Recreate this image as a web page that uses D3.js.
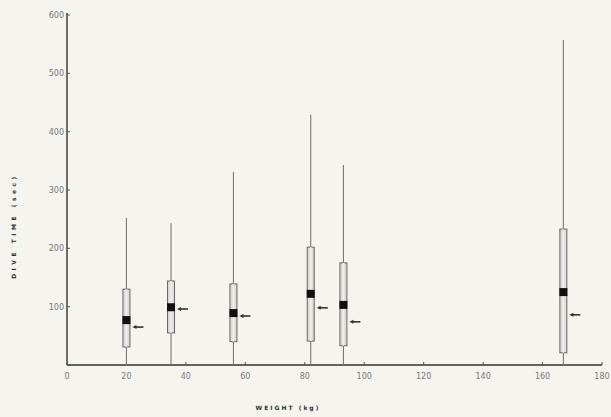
<!DOCTYPE html>
<html lang="en">
<head>
    <meta charset="UTF-8">
    <title>Dive time vs weight</title>
    <script src="https://d3js.org/d3.v7.min.js"></script>
    <style>
        body { margin: 0; background: #f5f4ef; }
        .tick-label {
            font-size: 8px;
            font-family: "DejaVu Sans", sans-serif;
            fill: #777;
        }
        .axis-title {
            font-size: 6px;
            font-weight: bold;
            font-family: "DejaVu Sans", sans-serif;
            fill: #333;
            letter-spacing: 2px;
            text-anchor: middle;
        }
    </style>
</head>
<body>
<script>
    // weight (kg) of each group and its dive time summary (sec)
    let weights = [20, 35, 56, 82, 93, 167];
    let whiskerLow = [0, 0, 0, 0, 0, 0];
    let q1 = [31, 55, 40, 41, 33, 21];
    let medians = [77, 99, 89, 122, 103, 125];
    let q3 = [130, 144, 139, 202, 175, 233];
    let whiskerHigh = [252, 243, 331, 429, 343, 557];
    let means = [65, 96, 84, 98, 74, 86];

    let xTicks = [0, 20, 40, 60, 80, 100, 120, 140, 160, 180];
    let yTicks = [0, 100, 200, 300, 400, 500, 600];

    let width = 611;
    let height = 417;

    let svg = d3.select("body").append("svg")
        .attr("width", width)
        .attr("height", height);

    // background
    svg.append("rect")
        .attr("fill", "#f5f4ef")
        .attr("width", "100%")
        .attr("height", "100%");

    let x = d3.scaleLinear().domain([0, 180]).range([67, 602]);
    let y = d3.scaleLinear().domain([0, 600]).range([365, 15]);

    // axes
    svg.append("line")
        .attr("x1", x(0)).attr("y1", y(0))
        .attr("x2", x(180)).attr("y2", y(0))
        .attr("stroke", "#333").attr("stroke-width", 1.6);
    svg.append("line")
        .attr("x1", x(0)).attr("y1", y(0))
        .attr("x2", x(0)).attr("y2", y(600) - 2)
        .attr("stroke", "#333").attr("stroke-width", 1.4);

    xTicks.forEach(t => {
        svg.append("line")
            .attr("x1", x(t)).attr("x2", x(t))
            .attr("y1", y(0)).attr("y2", y(0) - 3)
            .attr("stroke", "#555");
        svg.append("text")
            .attr("class", "tick-label")
            .attr("x", x(t))
            .attr("y", y(0) + 14)
            .attr("text-anchor", "middle")
            .text(t);
    });

    yTicks.forEach(t => {
        svg.append("line")
            .attr("x1", x(0)).attr("x2", x(0) + 3)
            .attr("y1", y(t)).attr("y2", y(t))
            .attr("stroke", "#555");
        if (t > 0) {
            svg.append("text")
                .attr("class", "tick-label")
                .attr("x", x(0) - 3)
                .attr("y", y(t) + 3)
                .attr("text-anchor", "end")
                .text(t);
        }
    });

    // axis titles
    svg.append("text")
        .attr("class", "axis-title")
        .attr("x", 288)
        .attr("y", 410)
        .text("WEIGHT (kg)");

    svg.append("text")
        .attr("class", "axis-title")
        .attr("transform", "translate(16, 226) rotate(-90)")
        .style("letter-spacing", "3.5px")
        .text("DIVE   TIME   (sec)");

    // box plots
    let boxW = 7;
    weights.forEach((w, i) => {
        let cx = x(w);

        // whisker
        svg.append("line")
            .attr("x1", cx).attr("x2", cx)
            .attr("y1", y(whiskerLow[i])).attr("y2", y(whiskerHigh[i]))
            .attr("stroke", "#777").attr("stroke-width", 1.1);

        // box
        svg.append("rect")
            .attr("x", cx - boxW / 2)
            .attr("y", y(q3[i]))
            .attr("width", boxW)
            .attr("height", y(q1[i]) - y(q3[i]))
            .attr("fill", "#dcdcd8")
            .attr("stroke", "#666")
            .attr("stroke-width", 1);

        svg.append("line")
            .attr("x1", cx).attr("x2", cx)
            .attr("y1", y(q3[i])).attr("y2", y(q1[i]))
            .attr("stroke", "#f2f2ee").attr("stroke-width", 1.5);

        // median
        svg.append("rect")
            .attr("x", cx - 4)
            .attr("y", y(medians[i]) - 4)
            .attr("width", 8)
            .attr("height", 8)
            .attr("fill", "#111");

        // mean arrow
        let my = y(means[i]);
        svg.append("line")
            .attr("x1", cx + 8).attr("x2", cx + 17)
            .attr("y1", my).attr("y2", my)
            .attr("stroke", "#333").attr("stroke-width", 1.6);
        svg.append("path")
            .attr("d", d3.line()([[cx + 6, my], [cx + 10, my - 2], [cx + 10, my + 2]]))
            .attr("fill", "#333");
    });
</script>
</body>
</html>
